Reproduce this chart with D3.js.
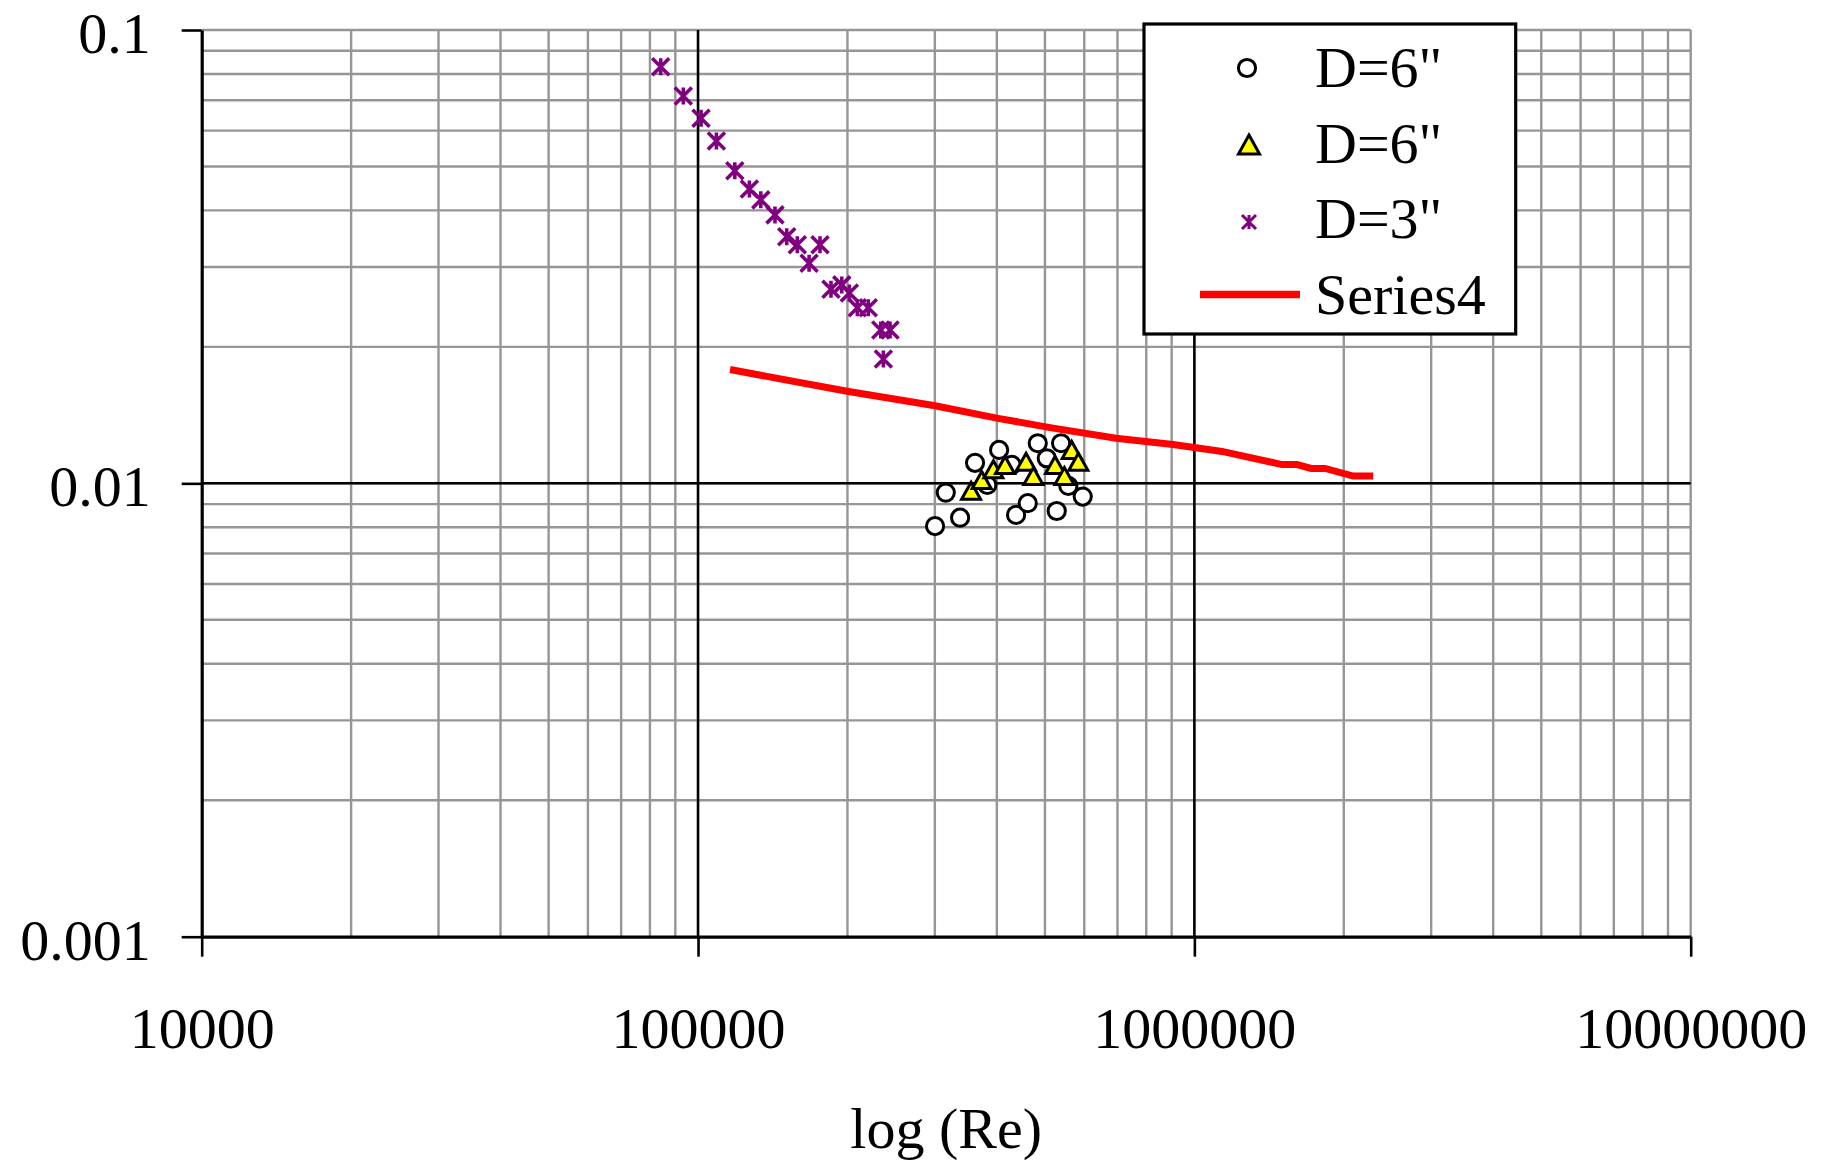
<!DOCTYPE html>
<html>
<head>
<meta charset="utf-8">
<script src="https://cdn.jsdelivr.net/npm/d3@7"></script>
<style>
  body { margin: 0; background: #fff; }
  svg text { font-family: "Liberation Serif", "Times New Roman", serif; }
</style>
</head>
<body>
<div class="container"></div>
<script>
// axis ticks
const xTicks = [1e4, 1e5, 1e6, 1e7];
const xTickLabels = ["10000", "100000", "1000000", "10000000"];
const yTicks = [0.001, 0.01, 0.1];
const yTickLabels = ["0.001", "0.01", "0.1"];
const xTitle = "log (Re)";

const seriesNames = ['D=6"', 'D=6"', 'D=3"', "Series4"];

// series 1: D=6" (circles)
const circleRe = [300300, 315600, 337300, 361500, 382700, 404200, 428700, 437300,
  461600, 483600, 504200, 528100, 538800, 557300, 595800];
const circleF = [0.00805, 0.00954, 0.0084, 0.0111, 0.00992, 0.01185, 0.01098, 0.00852,
  0.00904, 0.01226, 0.01136, 0.00869, 0.01226, 0.00987, 0.00935];

// series 2: D=6" (triangles)
const triRe = [354900, 372900, 393600, 415500, 458000, 473800, 524000, 547200, 566100, 583700];
const triF = [0.00963, 0.01017, 0.01074, 0.01098, 0.01116, 0.01038, 0.01098, 0.01038, 0.01185, 0.01116];

// series 3: D=3" (stars)
const starRe = [84100, 93400, 101400, 108900, 118600, 126900, 133800, 142900, 150900, 158500,
  176100, 167400, 185300, 194800, 201800, 209400, 220300, 233400, 243700, 236300];
const starF = [0.083, 0.0715, 0.0639, 0.0569, 0.0489, 0.0446, 0.0422, 0.0391, 0.035, 0.0336,
  0.0336, 0.0306, 0.0268, 0.0274, 0.0263, 0.0244, 0.0244, 0.0218, 0.0218, 0.0188];

// series 4: line
const lineRe = [116000, 199700, 300300, 402300, 512100, 695400, 906000, 1137000,
  1502000, 1610000, 1719000, 1834000, 2089000, 2292000];
const lineF = [0.01783, 0.01596, 0.01483, 0.01391, 0.01327, 0.01257, 0.01218, 0.01176,
  0.011, 0.011, 0.01079, 0.01079, 0.01038, 0.01038];

const width = 1841;
const height = 1169;
const plot = { left: 201.7, right: 1690.7, top: 30, bottom: 936.7 };
const fontSize = 58;

const x = d3.scaleLog().domain([1e4, 1e7]).range([plot.left, plot.right]);
const y = d3.scaleLog().domain([0.001, 0.1]).range([plot.bottom, plot.top]);

const svg = d3.select(".container")
  .append("svg")
  .attr("width", width)
  .attr("height", height);

// grid lines
const grid = svg.append("g").attr("id", "grid");

grid.selectAll(".xg")
  .data(x.ticks().filter(d => d > 1e4))
  .enter()
  .append("line")
  .attr("x1", d => x(d))
  .attr("x2", d => x(d))
  .attr("y1", plot.top)
  .attr("y2", plot.bottom)
  .attr("stroke", "#969696")
  .attr("stroke-width", 2.4);

grid.selectAll(".yg")
  .data(y.ticks().filter(d => d > 0.001))
  .enter()
  .append("line")
  .attr("x1", plot.left)
  .attr("x2", plot.right)
  .attr("y1", d => y(d))
  .attr("y2", d => y(d))
  .attr("stroke", "#969696")
  .attr("stroke-width", 2.4);

// black major lines above the gray ones
grid.selectAll(".xm")
  .data(xTicks.slice(1, 3))
  .enter()
  .append("line")
  .attr("x1", d => x(d))
  .attr("x2", d => x(d))
  .attr("y1", plot.top)
  .attr("y2", plot.bottom)
  .attr("stroke", "#000")
  .attr("stroke-width", 2.5);

grid.append("line")
  .attr("x1", plot.left)
  .attr("x2", plot.right)
  .attr("y1", y(0.01))
  .attr("y2", y(0.01))
  .attr("stroke", "#000")
  .attr("stroke-width", 2.5);

// axes
const xAxis = svg.append("g")
  .attr("transform", `translate(0,${plot.bottom})`)
  .call(d3.axisBottom(x)
    .tickValues(xTicks)
    .tickFormat((d, i) => xTickLabels[i])
    .tickSize(20)
    .tickSizeOuter(0));

xAxis.select(".domain").attr("stroke", "#000").attr("stroke-width", 3.2);
xAxis.selectAll(".tick line").attr("stroke", "#000").attr("stroke-width", 2.6);
xAxis.selectAll(".tick text")
  .attr("y", 111)
  .attr("dy", 0)
  .attr("fill", "#000")
  .style("font-size", fontSize + "px")
  .style("font-family", '"Liberation Serif", serif');

const yAxis = svg.append("g")
  .attr("transform", `translate(${plot.left},0)`)
  .call(d3.axisLeft(y)
    .tickValues(yTicks)
    .tickFormat((d, i) => yTickLabels[i])
    .tickSize(20)
    .tickSizeOuter(0));

yAxis.select(".domain").attr("stroke", "#000").attr("stroke-width", 3.2);
yAxis.selectAll(".tick line").attr("stroke", "#000").attr("stroke-width", 2.6);
yAxis.selectAll(".tick text")
  .attr("x", -51)
  .attr("dy", "0.39em")
  .attr("fill", "#000")
  .style("font-size", fontSize + "px")
  .style("font-family", '"Liberation Serif", serif');

svg.append("text")
  .attr("x", (plot.left + plot.right) / 2)
  .attr("y", 1148)
  .attr("text-anchor", "middle")
  .style("font-size", fontSize + "px")
  .text(xTitle);

// markers
const triPath = (w, h) => `M0,${-h / 2}L${w / 2},${h / 2}L${-w / 2},${h / 2}Z`;
const starPath = s => `M${-s},${-s}L${s},${s}M${-s},${s}L${s},${-s}M0,${-s}L0,${s}`;

const circleData = circleRe.map((d, i) => ({ re: d, f: circleF[i] }));
const triData = triRe.map((d, i) => ({ re: d, f: triF[i] }));
const starData = starRe.map((d, i) => ({ re: d, f: starF[i] }));
const lineData = lineRe.map((d, i) => ({ re: d, f: lineF[i] }));

svg.append("g")
  .attr("id", "circles")
  .selectAll("circle")
  .data(circleData)
  .enter()
  .append("circle")
  .attr("cx", d => x(d.re))
  .attr("cy", d => y(d.f))
  .attr("r", 8.6)
  .attr("fill", "#fff")
  .attr("stroke", "#000")
  .attr("stroke-width", 3);

svg.append("g")
  .attr("id", "triangles")
  .selectAll("path")
  .data(triData)
  .enter()
  .append("path")
  .attr("transform", d => `translate(${x(d.re)},${y(d.f)})`)
  .attr("d", triPath(19, 17))
  .attr("fill", "#ffff00")
  .attr("stroke", "#000")
  .attr("stroke-width", 3)
  .attr("stroke-linejoin", "miter");

svg.append("g")
  .attr("id", "stars")
  .selectAll("path")
  .data(starData)
  .enter()
  .append("path")
  .attr("transform", d => `translate(${x(d.re)},${y(d.f)})`)
  .attr("d", starPath(8.5))
  .attr("fill", "none")
  .attr("stroke", "#800080")
  .attr("stroke-width", 3.6);

svg.append("path")
  .datum(lineData)
  .attr("fill", "none")
  .attr("stroke", "#ff0000")
  .attr("stroke-width", 7)
  .attr("d", d3.line().x(d => x(d.re)).y(d => y(d.f)));

// legend
const legend = svg.append("g").attr("id", "legend");
legend.append("rect")
  .attr("x", 1144)
  .attr("y", 24)
  .attr("width", 371.7)
  .attr("height", 310)
  .attr("fill", "#fff")
  .attr("stroke", "#000")
  .attr("stroke-width", 3.2);

const rowY = i => 68 + i * 75.5;
const markX = 1248;

legend.append("circle")
  .attr("cx", markX - 1)
  .attr("cy", rowY(0))
  .attr("r", 8.6)
  .attr("fill", "#fff")
  .attr("stroke", "#000")
  .attr("stroke-width", 3);

legend.append("path")
  .attr("transform", `translate(${markX + 1},${rowY(1) + 1})`)
  .attr("d", triPath(21, 19))
  .attr("fill", "#ffff00")
  .attr("stroke", "#000")
  .attr("stroke-width", 3);

legend.append("path")
  .attr("transform", `translate(${markX + 1},${rowY(2) + 3})`)
  .attr("d", starPath(7))
  .attr("fill", "none")
  .attr("stroke", "#800080")
  .attr("stroke-width", 3);

legend.append("line")
  .attr("x1", 1200)
  .attr("x2", 1300)
  .attr("y1", rowY(3))
  .attr("y2", rowY(3))
  .attr("stroke", "#ff0000")
  .attr("stroke-width", 7.5);

legend.selectAll(".ltext")
  .data(seriesNames)
  .enter()
  .append("text")
  .attr("x", 1315)
  .attr("y", (d, i) => rowY(i) + 19)
  .style("font-size", fontSize + "px")
  .text(d => d);
</script>
</body>
</html>
